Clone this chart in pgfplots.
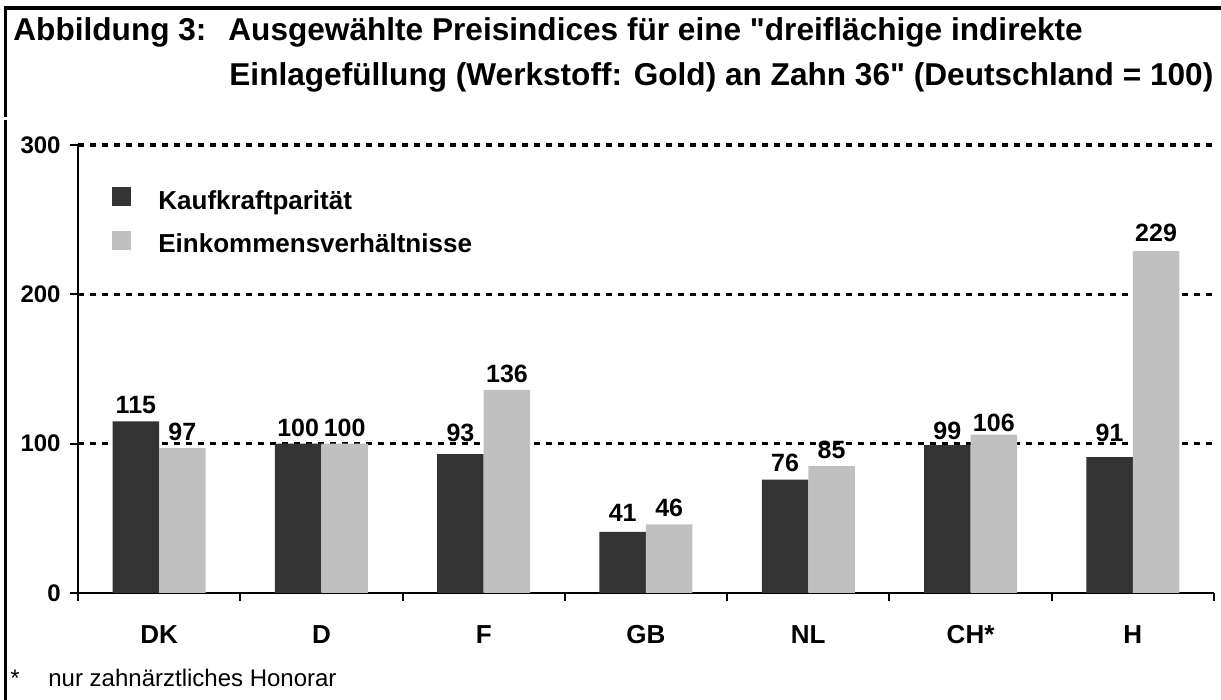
\documentclass[border=0pt]{standalone}
\usepackage{fontspec}
\setmainfont{Liberation Sans}
\newfontfamily\titlefont{Liberation Sans}
\usepackage{pgfplots}
\pgfplotsset{compat=1.18}
\definecolor{darkbar}{HTML}{333333}
\definecolor{lightbar}{HTML}{C0C0C0}
\begin{document}
\begin{tikzpicture}
\path[use as bounding box] (0,0) rectangle (610.5pt,350pt);
% frame
\draw[line width=2pt] (1.75pt,346pt) -- (610.5pt,346pt);
\draw[line width=1.5pt] (2.5pt,347pt) -- (2.5pt,291.5pt);
\draw[line width=1.5pt] (2.5pt,290pt) -- (2.5pt,0pt);
% title
\node[anchor=base west, inner sep=0pt, font=\titlefont\fontsize{15.8}{18}\selectfont\bfseries] at (6.5pt,329.5pt) {Abbildung 3:};
\node[anchor=base west, inner sep=0pt, font=\titlefont\fontsize{15.8}{18}\selectfont\bfseries] at (114pt,329.5pt) {Ausgewählte Preisindices für eine "dreiflächige indirekte};
\node[anchor=base west, inner sep=0pt, font=\titlefont\fontsize{15.8}{18}\selectfont\bfseries] at (114.5pt,307pt) {Einlagefüllung (Werkstoff: Gold) an Zahn 36" (Deutschland = 100)};
% footnote
\node[anchor=base west, inner sep=0pt, font=\fontsize{12}{14}\selectfont] at (5pt,6.5pt) {*};
\node[anchor=base west, inner sep=0pt, font=\fontsize{12}{14}\selectfont] at (24pt,6.5pt) {nur zahnärztliches Honorar};
\begin{axis}[
  at={(39pt,53.5pt)}, anchor=south west,
  scale only axis, width=568pt, height=224pt,
  xmin=-0.5, xmax=6.5, ymin=0, ymax=300,
  axis lines*=left,
  axis line style={line width=1pt},
  tick align=outside,
  tick style={black, line width=1pt},
  major tick length=4pt,
  xtick={-0.5,0.5,...,6.5},
  xticklabels={},
  extra x ticks={0,1,2,3,4,5,6},
  extra x tick labels={DK,D,F,GB,NL,CH*,H},
  extra x tick style={major tick length=0pt, xticklabel style={yshift=-12.5pt, text height=9.3pt, text depth=0pt}},
  xticklabel style={font=\fontsize{13}{15}\selectfont\bfseries},
  ytick={0,100,200,300},
  yticklabel style={font=\fontsize{12}{14}\selectfont\bfseries, inner sep=0pt, xshift=-4.5pt},
  /pgf/number format/assume math mode=true,
  extra y ticks={100,200,300},
  extra y tick labels={},
  extra y tick style={grid=major, major tick length=0pt},
  grid style={black, line width=1.8pt, dash pattern=on 2.8pt off 3.2pt},
  legend style={at={(0,1)}, anchor=north west, xshift=17pt, yshift=-21pt,
    draw=none, fill=none, inner sep=0pt, row sep=8.3pt,
    font=\fontsize{13}{15}\selectfont\bfseries,
    nodes={inner sep=0pt, text height=9.5pt, text depth=2.8pt}},
  legend cell align=left,
  nodes near coords,
  visualization depends on={\thisrow{dy}\as\dy},
  every node near coord/.append style={font=\fontsize{12.5}{14}\selectfont\bfseries, black, yshift=\dy pt},
]
\addplot[ybar, bar width=23.25pt, bar shift=-11.625pt, fill=darkbar, draw=none,
  every node near coord/.append style={xshift=-11.625pt},
  legend image code/.code={\fill[darkbar, draw=none] (0pt,-2pt) rectangle (9.5pt,7.5pt); \node[draw=none, fill=none, inner sep=0pt, outer sep=0pt, minimum size=0pt, text height=0pt, text depth=0pt] at (23pt,0pt) {};}]
  table[x=x, y=y] {
x y dy
0 115 0
1 100 0
2 93 2.5
3 41 1.5
4 76 0.5
5 99 -1
6 91 4
};
\addlegendentry{Kaufkraftparität}
\addplot[ybar, bar width=23.25pt, bar shift=11.625pt, fill=lightbar, draw=none,
  every node near coord/.append style={xshift=11.625pt},
  legend image code/.code={\fill[lightbar, draw=none] (0pt,-2pt) rectangle (9.5pt,7.5pt); \node[draw=none, fill=none, inner sep=0pt, outer sep=0pt, minimum size=0pt, text height=0pt, text depth=0pt] at (23pt,0pt) {};}]
  table[x=x, y=y] {
x y dy
0 97 0
1 100 0
2 136 0
3 46 0
4 85 0
5 106 -2
6 229 1
};
\addlegendentry{Einkommensverhältnisse}
\end{axis}
\end{tikzpicture}
\end{document}
